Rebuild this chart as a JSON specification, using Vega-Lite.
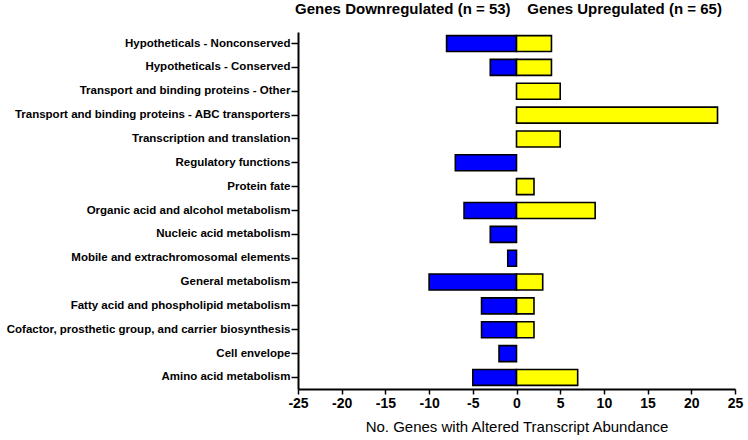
{
  "$schema": "https://vega.github.io/schema/vega-lite/v6.json",
  "autosize": "none",
  "width": 437,
  "height": 357,
  "padding": {"left": 298, "top": 32, "right": 13, "bottom": 51},
  "background": "white",
  "config": {
    "view": {"stroke": null},
    "font": "Liberation Sans"
  },
  "title": {
    "text": "Genes Downregulated (n = 53)\u00a0\u00a0\u00a0 Genes Upregulated (n = 65)",
    "font": "Liberation Sans",
    "fontSize": 15,
    "fontWeight": "bold",
    "color": "black",
    "anchor": "middle",
    "frame": "group",
    "dx": -8,
    "offset": 15
  },
  "data": {
    "values": [
      {"category": "Hypotheticals - Nonconserved", "direction": "Down", "count": -8},
      {"category": "Hypotheticals - Nonconserved", "direction": "Up", "count": 4},
      {"category": "Hypotheticals - Conserved", "direction": "Down", "count": -3},
      {"category": "Hypotheticals - Conserved", "direction": "Up", "count": 4},
      {"category": "Transport and binding proteins - Other", "direction": "Up", "count": 5},
      {"category": "Transport and binding proteins - ABC transporters", "direction": "Up", "count": 23},
      {"category": "Transcription and translation", "direction": "Up", "count": 5},
      {"category": "Regulatory functions", "direction": "Down", "count": -7},
      {"category": "Protein fate", "direction": "Up", "count": 2},
      {"category": "Organic acid and alcohol metabolism", "direction": "Down", "count": -6},
      {"category": "Organic acid and alcohol metabolism", "direction": "Up", "count": 9},
      {"category": "Nucleic acid metabolism", "direction": "Down", "count": -3},
      {"category": "Mobile and extrachromosomal elements", "direction": "Down", "count": -1},
      {"category": "General metabolism", "direction": "Down", "count": -10},
      {"category": "General metabolism", "direction": "Up", "count": 3},
      {"category": "Fatty acid and phospholipid metabolism", "direction": "Down", "count": -4},
      {"category": "Fatty acid and phospholipid metabolism", "direction": "Up", "count": 2},
      {"category": "Cofactor, prosthetic group, and carrier biosynthesis", "direction": "Down", "count": -4},
      {"category": "Cofactor, prosthetic group, and carrier biosynthesis", "direction": "Up", "count": 2},
      {"category": "Cell envelope", "direction": "Down", "count": -2},
      {"category": "Amino acid metabolism", "direction": "Down", "count": -5},
      {"category": "Amino acid metabolism", "direction": "Up", "count": 7}
    ]
  },
  "encoding": {
    "y": {
      "field": "category",
      "type": "nominal",
      "sort": null,
      "scale": {"paddingInner": 0.33, "paddingOuter": 0.15},
      "axis": {
        "title": null,
        "labelFont": "Liberation Sans",
        "labelFontSize": 11.5,
        "labelFontWeight": "bold",
        "labelColor": "black",
        "labelPadding": 1,
        "labelLimit": 400,
        "domainColor": "black",
        "domainWidth": 2,
        "tickColor": "black",
        "tickWidth": 1.5,
        "tickSize": 7,
        "grid": false
      }
    }
  },
  "layer": [
    {
      "mark": {"type": "bar", "stroke": "black", "strokeWidth": 1.6},
      "encoding": {
        "x": {
          "field": "count",
          "type": "quantitative",
          "stack": null,
          "scale": {"domain": [-25, 25], "nice": false},
          "axis": {
            "title": "No. Genes with Altered Transcript Abundance",
            "titleFont": "Liberation Sans",
            "titleFontSize": 15,
            "titleFontWeight": "normal",
            "titleColor": "black",
            "titlePadding": 9,
            "values": [-25, -20, -15, -10, -5, 0, 5, 10, 15, 20, 25],
            "labelExpr": "'' + datum.value",
            "labelFont": "Liberation Sans",
            "labelFontSize": 14,
            "labelFontWeight": "bold",
            "labelColor": "black",
            "labelPadding": 2,
            "labelFlush": false,
            "domainColor": "black",
            "domainWidth": 2,
            "tickColor": "black",
            "tickWidth": 1.5,
            "tickSize": 5,
            "grid": false
          }
        },
        "color": {
          "field": "direction",
          "type": "nominal",
          "scale": {"domain": ["Down", "Up"], "range": ["#0000FF", "#FFFF00"]},
          "legend": null
        }
      }
    },
    {
      "mark": {"type": "rule", "color": "black", "strokeWidth": 1.5},
      "encoding": {
        "x": {"datum": 0}
      }
    }
  ]
}
